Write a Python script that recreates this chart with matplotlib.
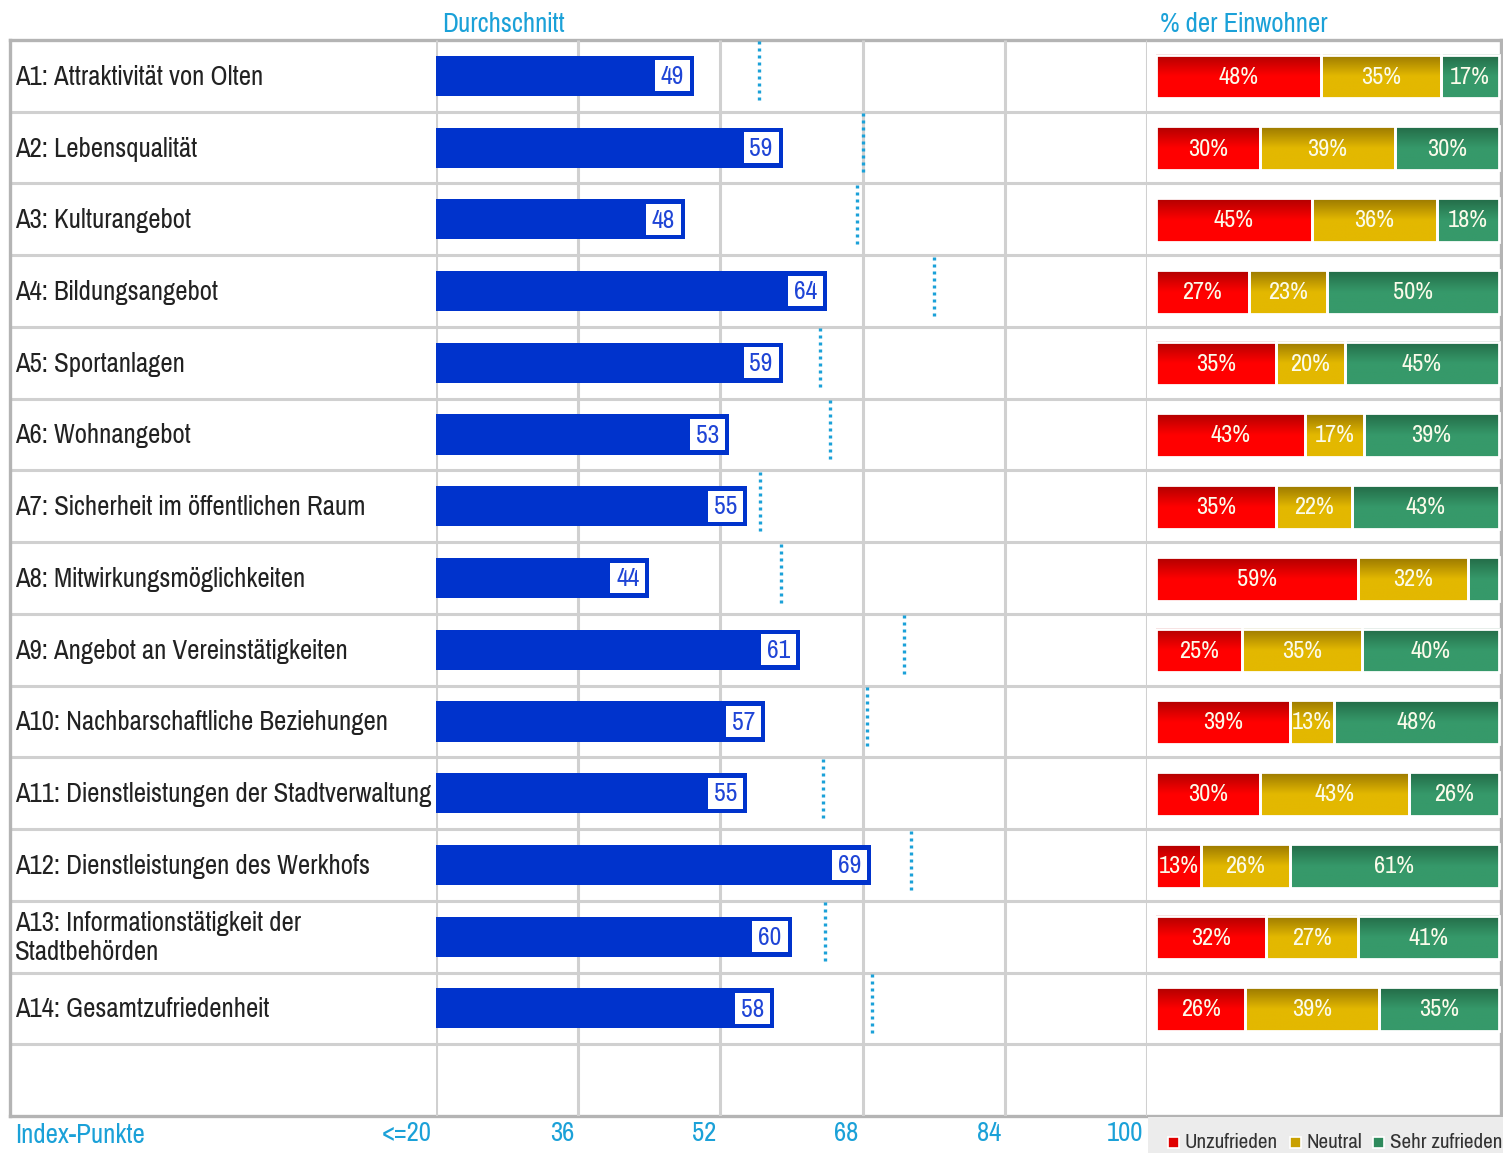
import numpy as np
import matplotlib.pyplot as plt
from matplotlib.colors import LinearSegmentedColormap
from matplotlib.patches import Rectangle

plt.rcParams['font.family'] = ['Pragati Narrow', 'Archivo Narrow', 'Roboto Condensed',
                               'IBM Plex Sans Condensed', 'DejaVu Sans']

labels = ["A1: Attraktivität von Olten", "A2: Lebensqualität", "A3: Kulturangebot",
          "A4: Bildungsangebot", "A5: Sportanlagen", "A6: Wohnangebot",
          "A7: Sicherheit im öffentlichen Raum", "A8: Mitwirkungsmöglichkeiten",
          "A9: Angebot an Vereinstätigkeiten", "A10: Nachbarschaftliche Beziehungen",
          "A11: Dienstleistungen der Stadtverwaltung", "A12: Dienstleistungen des Werkhofs",
          "A13: Informationstätigkeit der\nStadtbehörden", "A14: Gesamtzufriedenheit"]
index_vals = [49, 59, 48, 64, 59, 53, 55, 44, 61, 57, 55, 69, 60, 58]
average = [56.3, 68.0, 67.4, 76.0, 63.2, 64.3, 56.5, 58.8, 72.7, 68.5, 63.6, 73.4, 63.8, 69.1]
unzufrieden = [48, 30, 45, 27, 35, 43, 35, 59, 25, 39, 30, 13, 32, 26]
neutral = [35, 39, 36, 23, 20, 17, 22, 32, 35, 13, 43, 26, 27, 39]
zufrieden = [17, 30, 18, 50, 45, 39, 43, 9, 40, 48, 26, 61, 41, 35]
ticks = [20, 36, 52, 68, 84, 100]
tick_labels = ["<=20", "36", "52", "68", "84", "100"]

W, H = 1503, 1153
fig = plt.figure(figsize=(W / 100, H / 100), dpi=100)

top_px, bot_px = 40, 1116
nrows = 15
bottom = 1 - bot_px / H
height = (bot_px - top_px) / H
grid_c = '#d0d0d0'
cyan = '#1ba1d8'

# background frame with row lines and labels
bg = fig.add_axes([10 / W, bottom, 1491 / W, height])
bg.set_xlim(10, 1501)
bg.set_ylim(nrows, 0)
bg.set_xticks([])
bg.set_yticks([])
for s in bg.spines.values():
    s.set_color('#b4b4b4')
    s.set_linewidth(2.4)
bg.hlines(np.arange(1, nrows), 10, 1501, color=grid_c, lw=2.2, zorder=0)
for i, lab in enumerate(labels):
    bg.text(15, i + 0.52, lab, ha='left', va='center', fontsize=21, color='#222222',
            linespacing=1.22)

# middle: index bars
mid = fig.add_axes([436 / W, bottom, 711 / W, height])
mid.set_xlim(20, 100)
mid.set_ylim(nrows, 0)
mid.axis('off')
mid.vlines(ticks, 0, nrows, color=grid_c, lw=2.2, zorder=1)
y = np.arange(len(labels)) + 0.5
vals_mid = np.array(index_vals)
mid.barh(y, vals_mid - 20, left=20, height=0.56, color='#0033cc', zorder=2)
box_w = 3.95
mid.barh(y, box_w, left=vals_mid - 0.45 - box_w, height=0.43, color='white', zorder=3)
for yi, v in zip(y, index_vals):
    mid.text(v - 0.45 - box_w / 2, yi + 0.01, str(v), ha='center', va='center', fontsize=20,
             color='#1f45d6', zorder=4)
for i, a in enumerate(average):
    mid.plot([a, a], [i + 0.02, i + 0.86], color=cyan, lw=2.4,
             linestyle=(0, (0.9, 1.2)), dash_capstyle='butt', zorder=3)
for t, tl in zip(ticks, tick_labels):
    mid.text(t - 0.45, nrows + 0.24, tl, ha='right', va='center', fontsize=21, color=cyan,
             clip_on=False)
mid.text(20.7, -0.22, "Durchschnitt", ha='left', va='center', fontsize=21, color=cyan,
         clip_on=False)
bg.text(15, nrows + 0.27, "Index-Punkte", ha='left', va='center', fontsize=21, color=cyan,
        clip_on=False)

# right: stacked shares
right = fig.add_axes([1147 / W, bottom, 354 / W, height])
right.axis('off')
grads = [('#b00000', '#ff0000'), ('#9a7800', '#e3b800'), ('#236b47', '#36996a')]
cmaps = [LinearSegmentedColormap.from_list('g%d' % k, [c[0], c[1], c[1]]) for k, c in enumerate(grads)]
grad = np.linspace(0, 1, 64).reshape(-1, 1)
bh = 0.61
for i in range(len(labels)):
    vals = np.array([unzufrieden[i], neutral[i], zufrieden[i]], dtype=float)
    widths = vals / vals.sum() * 100
    lefts = np.concatenate([[0], np.cumsum(widths)[:-1]])
    yc = i + 0.5 + 0.01
    for k in range(3):
        right.imshow(grad, extent=(lefts[k], lefts[k] + widths[k], yc + bh / 2, yc - bh / 2),
                     aspect='auto', cmap=cmaps[k], origin='upper', zorder=2)
        if vals[k] >= 10:
            right.text(lefts[k] + widths[k] / 2, yc + 0.01, "%d%%" % vals[k], ha='center',
                       va='center', fontsize=19, color='#fbfbea', zorder=4)
    right.barh([yc] * 3, widths, left=lefts, height=bh, fc='none', ec='white', lw=2.0, zorder=3)
right.set_xlim(-2.62, 100.58)
right.set_ylim(nrows, 0)
right.text(1.3, -0.22, "% der Einwohner", ha='left', va='center', fontsize=21, color=cyan,
           clip_on=False)

# legend strip
fig.patches.append(Rectangle((1148 / W, 0), 355 / W, 36 / H, transform=fig.transFigure,
                             fc='#ececec', ec='none', zorder=0))
leg_items = [("Unzufrieden", 1168, '#e00000'), ("Neutral", 1290, '#c9a000'),
             ("Sehr zufrieden", 1373, '#2e8a5c')]
for name, px, c in leg_items:
    fig.patches.append(Rectangle((px / W, (H - 1148) / H), 11 / W, 11 / H,
                                 transform=fig.transFigure, fc=c, ec='white', lw=1.2, zorder=2))
    fig.text((px + 17) / W, (H - 1142) / H, name, ha='left', va='center', fontsize=16.5,
             color='#333333')

fig.savefig('out.png', dpi=100)
